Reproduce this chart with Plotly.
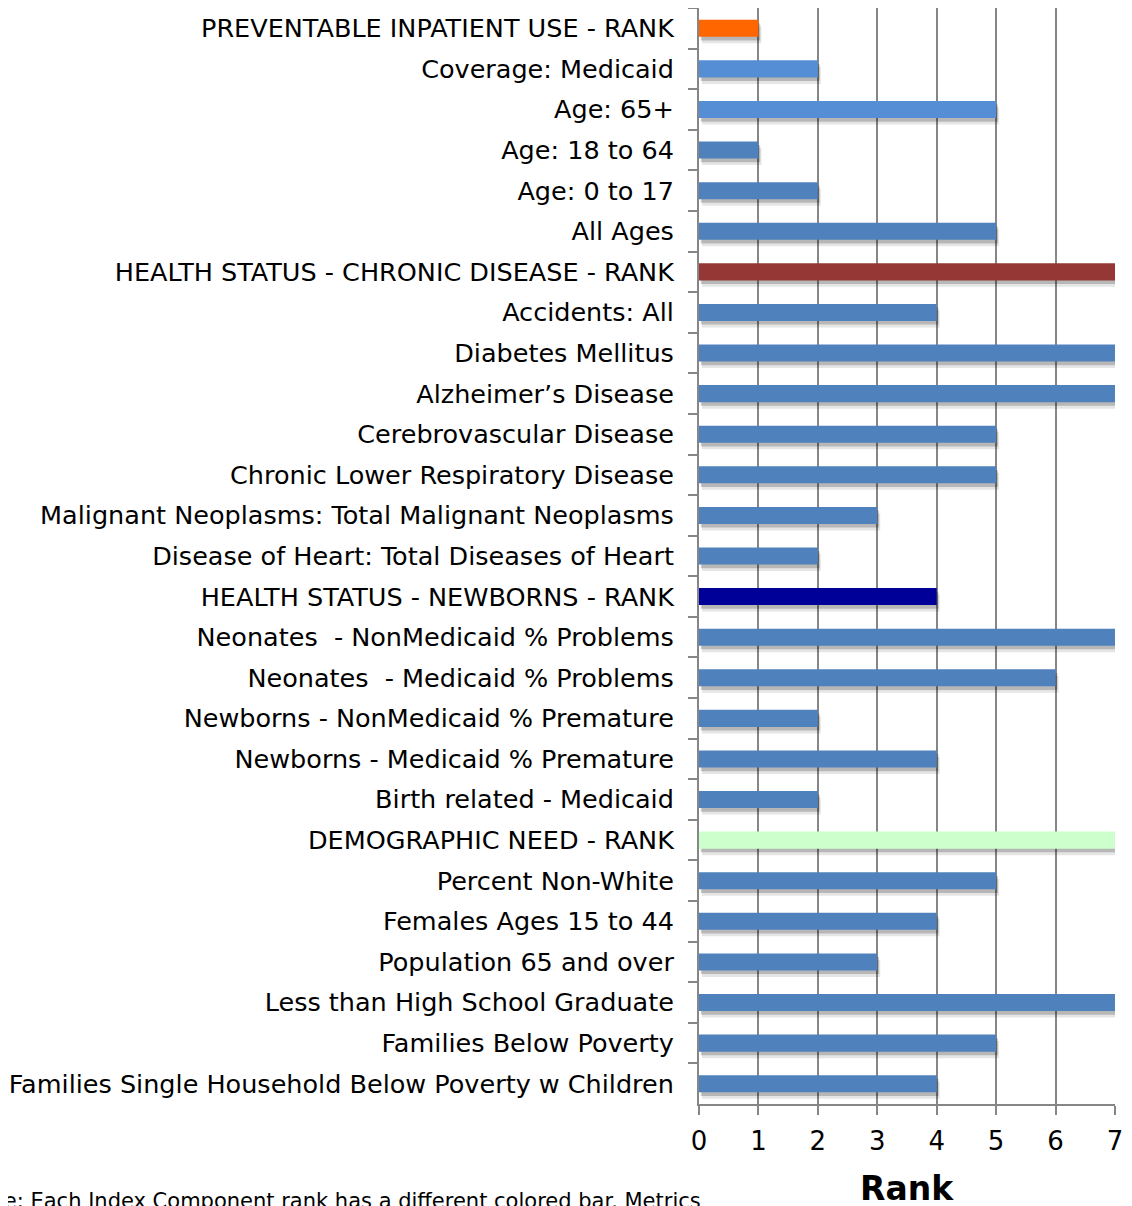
import plotly.graph_objects as go

categories = [
    "PREVENTABLE INPATIENT USE - RANK",
    "Coverage: Medicaid",
    "Age: 65+",
    "Age: 18 to 64",
    "Age: 0 to 17",
    "All Ages",
    "HEALTH STATUS - CHRONIC DISEASE - RANK",
    "Accidents: All",
    "Diabetes Mellitus",
    "Alzheimer\u2019s Disease",
    "Cerebrovascular Disease",
    "Chronic Lower Respiratory Disease",
    "Malignant Neoplasms: Total Malignant Neoplasms",
    "Disease of Heart: Total Diseases of Heart",
    "HEALTH STATUS - NEWBORNS - RANK",
    "Neonates\u00a0 - NonMedicaid % Problems",
    "Neonates\u00a0 - Medicaid % Problems",
    "Newborns - NonMedicaid % Premature",
    "Newborns - Medicaid % Premature",
    "Birth related - Medicaid",
    "DEMOGRAPHIC NEED - RANK",
    "Percent Non-White",
    "Females Ages 15 to 44",
    "Population 65 and over",
    "Less than High School Graduate",
    "Families Below Poverty",
    "Families Single Household Below Poverty w Children",
]

ranks = [1, 2, 5, 1, 2, 5, 7, 4, 7, 7, 5, 5, 3, 2, 4, 7, 6, 2, 4, 2, 7, 5, 4, 3, 7, 5, 4]

bar_colors = [
    "#FF6600", "#558ED5", "#558ED5", "#4F81BD", "#4F81BD", "#4F81BD",
    "#953735", "#4F81BD", "#4F81BD", "#4F81BD", "#4F81BD", "#4F81BD", "#4F81BD", "#4F81BD",
    "#000099", "#4F81BD", "#4F81BD", "#4F81BD", "#4F81BD", "#4F81BD",
    "#CCFFCC", "#4F81BD", "#4F81BD", "#4F81BD", "#4F81BD", "#4F81BD", "#4F81BD",
]

x_ticks = [0, 1, 2, 3, 4, 5, 6, 7]
axis_title = "Rank"
footnote = "Note: Each Index Component rank has a different colored bar. Metrics"

FONT = "DejaVu Sans"
GRID = "#868686"
BW = 0.42

fig = go.Figure()

# soft drop shadows (two layers)
fig.add_trace(go.Bar(
    y=categories, x=ranks, base=0.05, orientation="h",
    width=BW, offset=-BW / 2 + 0.16,
    marker=dict(color="rgba(0,0,0,0.10)", line=dict(width=0)),
    hoverinfo="skip", showlegend=False,
))
fig.add_trace(go.Bar(
    y=categories, x=ranks, base=0.03, orientation="h",
    width=BW, offset=-BW / 2 + 0.09,
    marker=dict(color="rgba(0,0,0,0.20)", line=dict(width=0)),
    hoverinfo="skip", showlegend=False,
))
fig.add_trace(go.Bar(
    y=categories, x=ranks, orientation="h",
    width=BW, offset=-BW / 2,
    marker=dict(color=bar_colors, line=dict(width=0)),
    showlegend=False,
))

fig.update_layout(
    width=1124, height=1198,
    margin=dict(l=691, r=17, t=0, b=102),
    paper_bgcolor="white", plot_bgcolor="white",
    barmode="overlay",
    font=dict(family=FONT, color="black"),
    xaxis=dict(
        range=[0, 7], tickvals=x_ticks, showgrid=True, gridcolor=GRID, gridwidth=2,
        showline=True, linecolor=GRID, linewidth=2, zeroline=False,
        ticks="outside", ticklen=9, tickcolor=GRID, tickwidth=2,
        tickfont=dict(size=26, family=FONT), ticklabelstandoff=4,
    ),
    yaxis=dict(
        categoryorder="array", categoryarray=categories, autorange="reversed",
        showgrid=False, showline=True, linecolor=GRID, linewidth=2,
        ticks="outside", tickson="boundaries", ticklen=9, tickcolor=GRID, tickwidth=2,
        tickfont=dict(size=25.5, family=FONT), ticklabelstandoff=18,
    ),
    annotations=[
        dict(text="<b>" + axis_title + "</b>", xref="paper", yref="paper",
             x=0.5, y=-0.077, xanchor="center", yanchor="middle", showarrow=False,
             font=dict(size=33, family=FONT, color="black")),
        dict(text=footnote, xref="paper", yref="paper",
             x=0.0096, y=-0.0885, xanchor="right", yanchor="middle", showarrow=False,
             font=dict(size=21, family=FONT, color="black")),
    ],
)

fig.write_html("out.html")
